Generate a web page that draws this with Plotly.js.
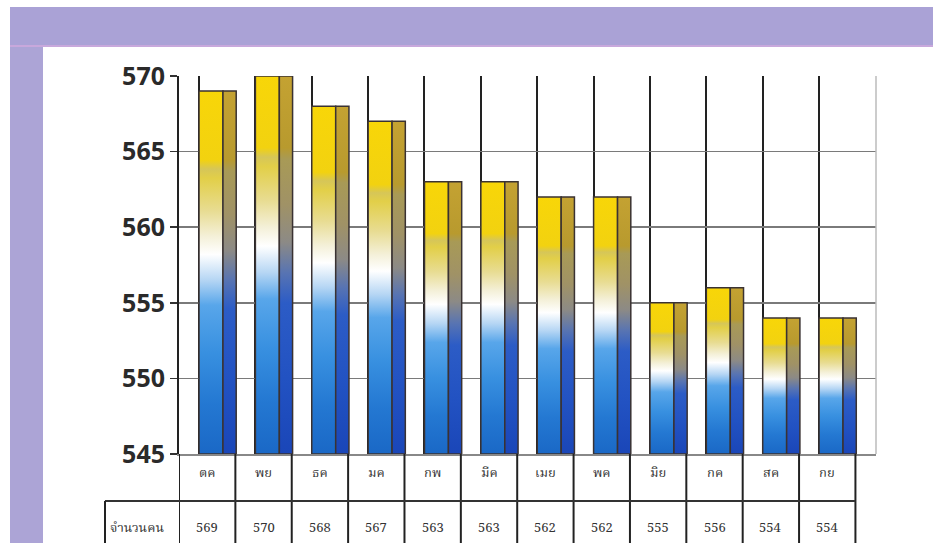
<!DOCTYPE html>
<html><head><meta charset="utf-8">
<script src="https://cdn.plot.ly/plotly-3.0.1.min.js"></script>
<style>
html,body{margin:0;padding:0;background:#fff;width:933px;height:543px;overflow:hidden;}
#frameTop{position:absolute;left:10px;top:7px;width:923px;height:38px;background:#aaa2d6;border-bottom:2px solid #c8a8dc;}
#frameLeft{position:absolute;left:10px;top:47px;width:33px;height:496px;background:#aca4d6;}
#chart{position:absolute;left:0;top:0;width:933px;height:543px;}
</style></head><body>
<div id="frameTop"></div><div id="frameLeft"></div>
<div id="chart"></div>
<script>
// ---- data ----
const months = ['ตค','พย','ธค','มค','กพ','มีค','เมย','พค','มิย','กค','สค','กย'];
const headcount = [569,570,568,567,563,563,562,562,555,556,554,554];
const rowLabel = 'จำนวนคน';
const yTicks = [545,550,555,560,565,570];

// ---- derived ----
const yFloor = yTicks[0];
const yTop = yTicks[yTicks.length - 1];
const idx = months.map((m, i) => i);
const heights = headcount.map(v => v - yFloor);
const colShift = -0.355;           // table columns are shifted left of the bars
const tableFont = {family: 'Noto Serif Thai, Noto Sans Thai, Liberation Serif, serif', size: 13, color: '#333'};

const front = {
  type: 'bar', x: idx, y: heights, base: headcount.map(() => yFloor),
  offset: 0, width: 0.425,
  marker: {color: '#f2d000', line: {color: '#3a3232', width: 1.5}},
  hoverinfo: 'skip', showlegend: false
};
const side = {
  type: 'bar', x: idx, y: heights, base: headcount.map(() => yFloor),
  offset: 0.425, width: 0.235,
  marker: {color: '#b89a30', line: {color: '#3a3232', width: 1.5}},
  hoverinfo: 'skip', showlegend: false
};

const yRow1 = -0.1243, yBottom = -0.26, labelLeft = -0.1062;
const shapes = [];
for (let k = 0; k <= months.length; k++) {
  shapes.push({type: 'line', xref: 'x', yref: 'paper', x0: k + colShift, x1: k + colShift, y0: 0, y1: yBottom,
    line: {color: '#222', width: 2}});
}
shapes.push({type: 'line', xref: 'x', yref: 'paper', x0: colShift, x1: months.length + colShift, y0: yRow1, y1: yRow1,
  line: {color: '#333', width: 2}});
shapes.push({type: 'line', xref: 'paper', yref: 'paper', x0: labelLeft, x1: 0, y0: yRow1, y1: yRow1,
  line: {color: '#333', width: 2}});
shapes.push({type: 'line', xref: 'paper', yref: 'paper', x0: labelLeft, x1: labelLeft, y0: yRow1, y1: yBottom,
  line: {color: '#222', width: 2}});
shapes.push({type: 'line', xref: 'paper', yref: 'paper', x0: 1, x1: 1, y0: 0, y1: 1,
  line: {color: '#bbbbbb', width: 1.5}});

const annotations = [];
months.forEach((m, i) => {
  annotations.push({xref: 'x', yref: 'paper', x: i + colShift + 0.5, y: -0.0516, text: m, showarrow: false,
    xanchor: 'center', yanchor: 'middle', font: tableFont});
  annotations.push({xref: 'x', yref: 'paper', x: i + colShift + 0.5, y: -0.1958, text: String(headcount[i]), showarrow: false,
    xanchor: 'center', yanchor: 'middle', font: tableFont});
});
annotations.push({xref: 'paper', yref: 'paper', x: labelLeft + 0.004, y: -0.1958, text: rowLabel, showarrow: false,
  xanchor: 'left', yanchor: 'middle', font: tableFont});

const layout = {
  width: 933, height: 543,
  margin: {l: 179, r: 57, t: 76, b: 89, pad: 0},
  paper_bgcolor: 'rgba(0,0,0,0)', plot_bgcolor: '#ffffff',
  barmode: 'overlay',
  xaxis: {range: [colShift, months.length + 0.01], tickmode: 'array', tickvals: idx, showticklabels: false,
    showgrid: true, gridcolor: '#222', gridwidth: 2, zeroline: false, ticks: '',
    showline: true, linecolor: '#888', linewidth: 1.5},
  yaxis: {range: [yFloor, yTop], tickmode: 'array', tickvals: yTicks, ticktext: yTicks.map(String),
    showgrid: true, gridcolor: '#7a7a7a', gridwidth: 1.5, zeroline: false,
    showline: true, linecolor: '#222', linewidth: 2, ticks: 'outside', ticklen: 7, tickwidth: 1.5, tickcolor: '#333',
    tickfont: {family: 'Open Sans, sans-serif', size: 25, color: '#2a2a2a', weight: 'bold'}},
  shapes: shapes, annotations: annotations
};

const gd = document.getElementById('chart');
Plotly.newPlot(gd, [front, side], layout, {staticPlot: true, displayModeBar: false}).then(() => {
  const NS = 'http://www.w3.org/2000/svg';
  const svg = gd.querySelector('svg.main-svg');
  let defs = svg.querySelector('defs');
  if (!defs) { defs = document.createElementNS(NS, 'defs'); svg.insertBefore(defs, svg.firstChild); }
  function grad(id, stops) {
    const g = document.createElementNS(NS, 'linearGradient');
    g.setAttribute('id', id);
    g.setAttribute('x1', '0'); g.setAttribute('y1', '0'); g.setAttribute('x2', '0'); g.setAttribute('y2', '1');
    stops.forEach(([o, c]) => {
      const s = document.createElementNS(NS, 'stop');
      s.setAttribute('offset', o); s.setAttribute('stop-color', c);
      g.appendChild(s);
    });
    defs.appendChild(g);
  }
  grad('gFront', [[0, '#f8d608'], [0.19, '#f2d210'], [0.215, '#d6c658'], [0.24, '#e2cf48'],
    [0.33, '#e8dc92'], [0.40, '#f4f0d8'], [0.45, '#ffffff'], [0.52, '#b6d6f4'], [0.59, '#58a6ea'],
    [0.72, '#3890e0'], [0.86, '#2478d2'], [1, '#1a68c6']]);
  grad('gSide', [[0, '#c4a232'], [0.19, '#b89a2e'], [0.22, '#a89a56'], [0.34, '#a09266'], [0.44, '#8c8a86'],
    [0.52, '#5874b2'], [0.6, '#2c5cc6'], [0.8, '#2252c2'], [1, '#1a46b8']]);
  const traces = gd.querySelectorAll('.barlayer .trace');
  if (traces[0]) traces[0].querySelectorAll('path').forEach(p => { p.style.fill = 'url(#gFront)'; });
  if (traces[1]) traces[1].querySelectorAll('path').forEach(p => { p.style.fill = 'url(#gSide)'; });
});
</script>
</body></html>
